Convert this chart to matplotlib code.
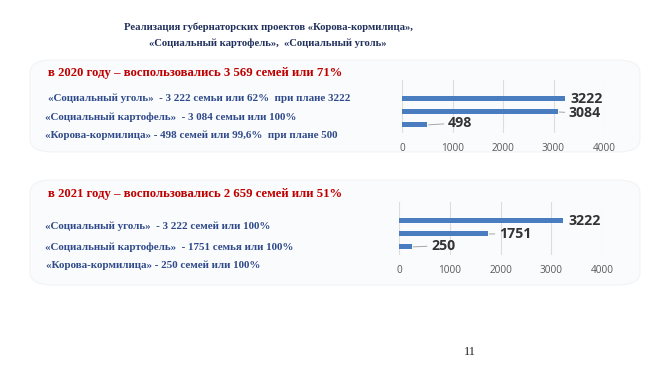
import matplotlib
matplotlib.use("Agg")
import matplotlib.pyplot as plt
from matplotlib.patches import FancyBboxPatch

# ---- data ----
title_lines = ["Реализация губернаторских проектов «Корова-кормилица»,",
               "«Социальный картофель»,  «Социальный уголь»"]
categories = ["Социальный уголь", "Социальный картофель", "Корова-кормилица"]
values_2020 = [3222, 3084, 498]
values_2021 = [3222, 1751, 250]
heading_2020 = "в 2020 году – воспользовались 3 569 семей или 71%"
heading_2021 = "в 2021 году – воспользовались 2 659 семей или 51%"
lines_2020 = ["«Социальный уголь»  - 3 222 семьи или 62%  при плане 3222",
              "«Социальный картофель»  - 3 084 семьи или 100%",
              "«Корова-кормилица» - 498 семей или 99,6%  при плане 500"]
lines_2021 = ["«Социальный уголь»  - 3 222 семей или 100%",
              "«Социальный картофель»  - 1751 семья или 100%",
              "«Корова-кормилица» - 250 семей или 100%"]
x_ticks = [0, 1000, 2000, 3000, 4000]
page_number = "11"

W, H = 650, 366
fig = plt.figure(figsize=(W / 100, H / 100), dpi=100)
fig.patch.set_facecolor("white")

def fx(px): return px / W
def fy(py): return 1 - py / H

SERIF = ["Liberation Serif", "DejaVu Serif"]
BLUE_TXT = "#2F4A8A"
RED_TXT = "#C00000"

# panels (very faint)
for (x0, y0, x1, y1) in [(30, 60, 640, 152), (30, 180, 640, 285)]:
    p = FancyBboxPatch((fx(x0), fy(y1)), fx(x1 - x0), (y1 - y0) / H,
                       boxstyle="round,pad=0,rounding_size=0.035",
                       transform=fig.transFigure, facecolor="#FAFBFC",
                       edgecolor="#F2F3F5", linewidth=0.8, zorder=-5)
    fig.patches.append(p)

# title
fig.text(fx(268), fy(27), title_lines[0], ha="center", va="center",
         family=SERIF, fontweight="bold", fontsize=7.7, color="#1F2F5A")
fig.text(fx(268), fy(43), title_lines[1], ha="center", va="center",
         family=SERIF, fontweight="bold", fontsize=7.7, color="#1F2F5A")

# text blocks
fig.text(fx(48), fy(73), heading_2020, ha="left", va="center", family=SERIF,
         fontweight="bold", fontsize=9.2, color=RED_TXT)
for (x, y), t in zip([(48, 98), (45, 117), (45, 135)], lines_2020):
    fig.text(fx(x), fy(y), t, ha="left", va="center", family=SERIF,
             fontweight="bold", fontsize=7.9, color=BLUE_TXT)

fig.text(fx(48), fy(194), heading_2021, ha="left", va="center", family=SERIF,
         fontweight="bold", fontsize=9.2, color=RED_TXT)
for (x, y), t in zip([(45, 226), (45, 247), (46, 265)], lines_2021):
    fig.text(fx(x), fy(y), t, ha="left", va="center", family=SERIF,
             fontweight="bold", fontsize=7.9, color=BLUE_TXT)

fig.text(fx(470), fy(352), page_number, ha="center", va="center",
         family=SERIF, fontsize=9, color="#222222")

BAR = "#4A7CC0"

def bar_chart(left_px, top_px, right_px, bottom_px, values, label_offsets):
    ax = fig.add_axes([fx(left_px), fy(bottom_px), fx(right_px - left_px),
                       (bottom_px - top_px) / H])
    ax.set_facecolor("none")
    ax.set_zorder(2)
    ypos = list(range(len(values)))
    ax.barh(ypos, values, height=0.38, color=BAR, zorder=3)
    ax.set_xlim(0, 4000)
    ax.set_ylim(2.62, -1.46)
    ax.set_xticks(x_ticks)
    ax.set_xticklabels([str(v) for v in x_ticks])
    ax.set_yticks([])
    ax.grid(axis="x", color="#DDDDDD", linewidth=0.8, zorder=0)
    for s in ax.spines.values():
        s.set_visible(False)
    ax.tick_params(axis="x", length=0, pad=7, labelsize=7.2, labelcolor="#595959")
    for t in ax.get_xticklabels():
        t.set_family(["Open Sans", "DejaVu Sans"])
    for y, v, (dx, dy, leader) in zip(ypos, values, label_offsets):
        kw = dict(textcoords="offset points", ha="left", va="center",
                  fontsize=10.2, fontweight="bold", color="#333333",
                  family=["Open Sans", "DejaVu Sans"], annotation_clip=False)
        if leader:
            kw["arrowprops"] = dict(arrowstyle="-", color="#A6A6A6",
                                    linewidth=0.7, shrinkA=1, shrinkB=1)
        ax.annotate(str(v), xy=(v, y), xytext=(dx, dy), **kw)
    return ax

bar_chart(402, 80, 604, 133, values_2020,
          [(4, 0, False), (8, -1, True), (15, 1.5, True)])
bar_chart(399, 202, 602, 255, values_2021,
          [(4, 0, False), (8, 0, True), (14, 1, True)])

fig.savefig("out.png", dpi=100, facecolor="white")
